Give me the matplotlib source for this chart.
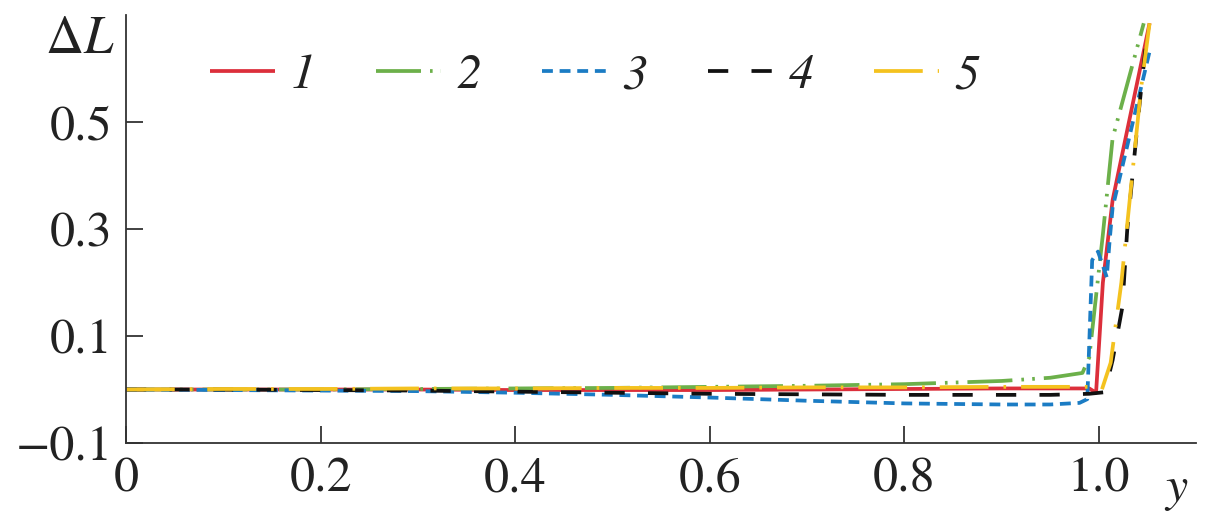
import matplotlib
matplotlib.use("Agg")
import matplotlib.pyplot as plt

plt.rcParams["font.family"] = ["STIXGeneral", "DejaVu Serif"]
plt.rcParams["mathtext.fontset"] = "stix"

# Relative elongation profiles along y for five cases
y1 = [0.0, 0.1, 0.2, 0.3, 0.4, 0.5, 0.6, 0.7, 0.8, 0.9, 0.95, 0.99, 0.997, 1.004, 1.014, 1.052]
dl1 = [0.0, 0.0, 0.0, 0.0, -0.001, -0.001, -0.001, 0.0, 0.001, 0.002, 0.002, 0.002, -0.006, 0.20, 0.354, 0.685]

y2 = [0.0, 0.1, 0.2, 0.3, 0.4, 0.5, 0.6, 0.7, 0.8, 0.9, 0.95, 0.983, 0.99, 1.004, 1.014, 1.046]
dl2 = [0.0, 0.0, 0.0, 0.001, 0.002, 0.003, 0.005, 0.007, 0.010, 0.016, 0.022, 0.031, 0.06, 0.29, 0.47, 0.685]

y3 = [0.0, 0.1, 0.2, 0.3, 0.4, 0.5, 0.6, 0.7, 0.8, 0.9, 0.95, 0.98, 0.988, 0.993, 0.999, 1.008, 1.011, 1.014, 1.053]
dl3 = [0.0, -0.001, -0.002, -0.003, -0.006, -0.010, -0.015, -0.021, -0.026, -0.028, -0.028, -0.025, -0.018, 0.242, 0.258, 0.21, 0.28, 0.34, 0.64]

y4 = [0.0, 0.1, 0.2, 0.3, 0.4, 0.5, 0.6, 0.7, 0.8, 0.9, 0.95, 0.99, 1.006, 1.014, 1.024, 1.029, 1.032, 1.040, 1.049, 1.053]
dl4 = [0.0, 0.0, -0.001, -0.002, -0.004, -0.006, -0.008, -0.009, -0.010, -0.010, -0.010, -0.008, -0.005, 0.055, 0.154, 0.298, 0.354, 0.504, 0.659, 0.672]

y5 = [0.0, 0.1, 0.2, 0.3, 0.4, 0.5, 0.6, 0.7, 0.8, 0.9, 0.95, 0.99, 1.003, 1.012, 1.023, 1.043, 1.052]
dl5 = [0.0, 0.001, 0.001, 0.002, 0.002, 0.003, 0.003, 0.004, 0.004, 0.005, 0.005, 0.005, 0.0, 0.05, 0.20, 0.56, 0.685]

labels = ["1", "2", "3", "4", "5"]
colors = ["#dc2f3b", "#6cb04a", "#1b7cc4", "#111111", "#f4c21f"]
styles = [
    "-",
    (0, (12.0, 2.4, 0.7, 2.2, 0.7, 2.4)),
    (0, (2.9, 1.8)),
    (0, (5.4, 6.2)),
    (0, (13.0, 4.0, 0.7, 4.0)),
]

fig = plt.figure(figsize=(12.08, 5.16), dpi=100)
ax = fig.add_axes([0.1043, 0.1415, 0.886, 0.829])

series = [(y1, dl1), (y2, dl2), (y3, dl3), (y4, dl4), (y5, dl5)]
for (xs, ys), lab, c, ls in zip(series, labels, colors, styles):
    ax.plot(xs, ys, color=c, linestyle=ls, linewidth=2.7, label=lab,
            solid_capstyle="butt", dash_capstyle="butt")

ax.set_xlim(0, 1.1)
ax.set_ylim(-0.1, 0.70)
ax.set_xticks([0, 0.2, 0.4, 0.6, 0.8, 1.0])
ax.set_xticklabels(["0", "0.2", "0.4", "0.6", "0.8", "1.0"])
ax.set_yticks([-0.1, 0.1, 0.3, 0.5])
ax.set_yticklabels(["\u22120.1", "0.1", "0.3", "0.5"])

for side in ("top", "right"):
    ax.spines[side].set_visible(False)
for side in ("left", "bottom"):
    ax.spines[side].set_linewidth(1.3)
    ax.spines[side].set_color("#333333")

ax.tick_params(axis="both", direction="in", length=12, width=1.3,
               colors="#333333", labelcolor="#222222", labelsize=36)
ax.tick_params(axis="x", pad=10)
ax.tick_params(axis="y", pad=10)

ax.text(-0.048, 0.653, r"$\Delta L$", transform=ax.transData, fontsize=38,
        ha="center", va="center", color="#222222")
ax.text(1.08, -0.185, "y", transform=ax.transData, fontsize=36,
        style="italic", ha="center", va="center", color="#222222")

leg = ax.legend(loc="upper left", bbox_to_anchor=(0.036, 1.016), ncol=5,
                frameon=False, handlelength=1.3, handletextpad=0.32,
                columnspacing=1.2, prop={"family": "STIXGeneral",
                                         "style": "italic", "size": 36})
for t in leg.get_texts():
    t.set_color("#222222")

fig.savefig("out.png", dpi=100)
